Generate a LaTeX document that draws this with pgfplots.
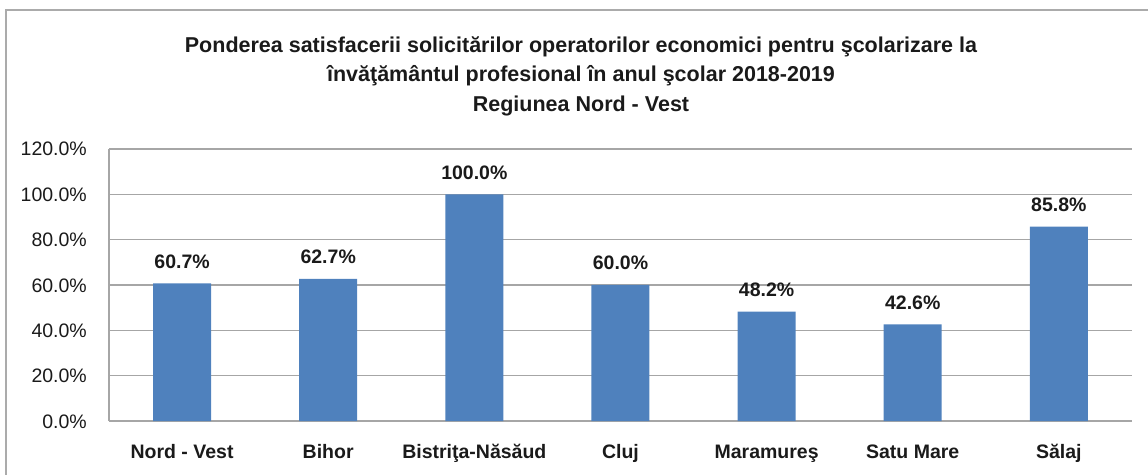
\documentclass[border=0pt]{standalone}
\usepackage{fontspec}
\setmainfont{Liberation Sans}
\usepackage{pgfplots}
\pgfplotsset{compat=1.18}
\definecolor{barblue}{HTML}{4F81BD}
\definecolor{gridc}{HTML}{A6A6A6}
\definecolor{txt}{HTML}{1A1A1A}
\definecolor{frame}{HTML}{ABABAB}

\begin{document}
\begin{tikzpicture}[x=1pt,y=1pt]
\useasboundingbox (0,0) rectangle (1148,474);
% outer chart frame
\draw[frame, line width=1.5pt] (6,-20) -- (6,464) -- (1170,464);
% title
\node[font=\fontsize{21.5}{29.5}\selectfont\bfseries, text=txt, align=center, anchor=north, inner sep=0pt]
  at (581,438) {Ponderea satisfacerii solicitărilor operatorilor economici pentru şcolarizare la\\
  învăţământul profesional în anul şcolar 2018-2019\\ Regiunea Nord - Vest};
\begin{axis}[
  at={(109pt,53pt)}, anchor=south west,
  scale only axis, width=1023pt, height=272pt,
  xmin=-0.5, xmax=6.5, ymin=0, ymax=120,
  axis x line*=bottom, axis y line*=left,
  axis line style={gridc, line width=1.3pt, -},
  ytick={0,20,...,120}, xtick={0,...,6},
  major tick length=0pt,
  ymajorgrids, grid style={gridc, line width=1.3pt},
  /pgf/number format/assume math mode=true,
  xticklabels={Nord - Vest, Bihor, Bistriţa-Năsăud, Cluj, Maramureş, Satu Mare, Sălaj},
  xticklabel style={font=\fontsize{19.5}{23}\selectfont\bfseries, text=txt, anchor=north, inner sep=0pt, text height=14pt, yshift=-23pt},
  yticklabel={\pgfmathprintnumber[fixed,fixed zerofill,precision=1]{\tick}\%},
  yticklabel style={font=\fontsize{19.5}{23}\selectfont, text=txt, anchor=east, inner sep=0pt, text height=14pt, text depth=0pt, xshift=-22pt},
  ybar, bar width=58pt,
  nodes near coords={\pgfmathprintnumber[fixed,fixed zerofill,precision=1]{\pgfplotspointmeta}\%},
  every node near coord/.append style={font=\fontsize{19.5}{23}\selectfont\bfseries, text=txt, anchor=base, inner sep=0pt, yshift=15pt},
  clip=false,
]
\addplot[fill=barblue, draw=none] coordinates {(0,60.7) (1,62.7) (2,100.0) (3,60.0) (4,48.2) (5,42.6) (6,85.8)};
\end{axis}
\end{tikzpicture}
\end{document}
